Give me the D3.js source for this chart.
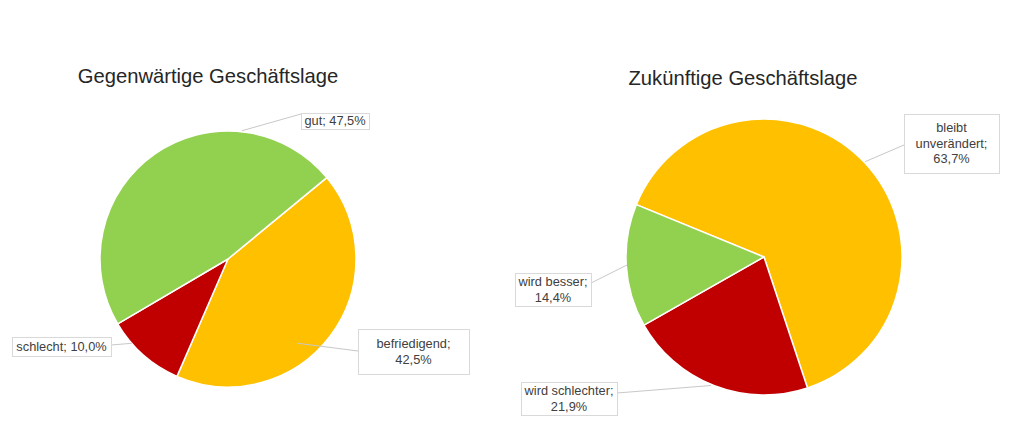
<!DOCTYPE html>
<html>
<head>
<meta charset="utf-8">
<script src="https://cdn.jsdelivr.net/npm/d3@7"></script>
<style>
  body { margin: 0; background: #fff; }
  svg { display: block; font-family: "Liberation Sans", Arial, sans-serif; }
</style>
</head>
<body>
<svg id="chart" width="1024" height="440"></svg>
<script>
// data
var leftTitle = "Gegenwärtige Geschäftslage";
var leftCategories = ["befriedigend", "schlecht", "gut"];
var leftValues = [42.5, 10.0, 47.5];
var leftColors = ["#FFC000", "#C00000", "#92D050"];

var rightTitle = "Zukünftige Geschäftslage";
var rightCategories = ["bleibt unverändert", "wird schlechter", "wird besser"];
var rightValues = [63.7, 21.9, 14.4];
var rightColors = ["#FFC000", "#C00000", "#92D050"];

var svg = d3.select("#chart");
var deg = Math.PI / 180;

function fmt(v) {
  return d3.format(".1f")(v).replace(".", ",") + "%";
}

// label layout: box [x, y, w, h], attach point on box, anchor on pie (angle deg, radius), words per row
function drawPie(cfg) {
  var g = svg.append("g")
    .attr("transform", "translate(" + cfg.cx + "," + cfg.cy + ")");

  var pie = d3.pie()
    .sort(null)
    .value(function (d) { return d.value; })
    .startAngle(cfg.start * deg)
    .endAngle(cfg.start * deg + 2 * Math.PI);

  var data = cfg.categories.map(function (c, i) {
    return { name: c, value: cfg.values[i], color: cfg.colors[i] };
  });

  var arc = d3.arc().innerRadius(0).outerRadius(cfg.r);

  g.selectAll("path")
    .data(pie(data))
    .enter().append("path")
    .attr("d", arc)
    .attr("fill", function (d) { return d.data.color; })
    .attr("stroke", "#fff")
    .attr("stroke-width", 1.5)
    .attr("stroke-linejoin", "round");

  // title
  svg.append("text")
    .attr("x", cfg.titleX)
    .attr("y", cfg.titleY)
    .attr("text-anchor", "middle")
    .attr("font-size", "20.2px")
    .attr("fill", "#262626")
    .text(cfg.title);

  // labels
  data.forEach(function (d, i) {
    var lab = cfg.labels[i];
    var p = d3.pointRadial(lab.angle * deg, lab.radius);
    svg.append("line")
      .attr("x1", cfg.cx + p[0])
      .attr("y1", cfg.cy + p[1])
      .attr("x2", lab.attach[0])
      .attr("y2", lab.attach[1])
      .attr("stroke", "#c8c8c8")
      .attr("stroke-width", 1);

    svg.append("rect")
      .attr("x", lab.box[0] + 0.5)
      .attr("y", lab.box[1] + 0.5)
      .attr("width", lab.box[2])
      .attr("height", lab.box[3])
      .attr("fill", "#fff")
      .attr("stroke", "#d9d9d9")
      .attr("stroke-width", 1);

    var words = (d.name + "; " + fmt(d.value)).split(" ");
    var rows = [], k = 0;
    lab.rows.forEach(function (n) {
      rows.push(words.slice(k, k + n).join(" "));
      k += n;
    });

    var lh = 15.5;
    var midY = lab.box[1] + lab.box[3] / 2;
    var firstY = midY - (rows.length - 1) * lh / 2;
    var t = svg.append("text")
      .attr("text-anchor", "middle")
      .attr("font-size", "12.8px")
      .attr("fill", "#404040");
    rows.forEach(function (r, j) {
      t.append("tspan")
        .attr("x", lab.box[0] + lab.box[2] / 2)
        .attr("y", firstY + j * lh)
        .attr("dy", "0.35em")
        .text(r);
    });
  });
}

drawPie({
  title: leftTitle, titleX: 208, titleY: 83,
  categories: leftCategories, values: leftValues, colors: leftColors,
  cx: 228, cy: 259, r: 128, start: 50.5,
  labels: [
    { box: [358, 329, 111, 45], attach: [358, 351], angle: 140.6, radius: 109, rows: [1, 1] },
    { box: [12, 337, 99, 19], attach: [111, 345], angle: 228.8, radius: 128, rows: [2] },
    { box: [301, 113, 68, 16], attach: [301, 114], angle: 6.2, radius: 129, rows: [2] }
  ]
});

drawPie({
  title: rightTitle, titleX: 743, titleY: 85,
  categories: rightCategories, values: rightValues, colors: rightColors,
  cx: 764, cy: 257, r: 138, start: 292.3,
  labels: [
    { box: [904, 114, 95, 59], attach: [904, 145], angle: 46.7, radius: 139, rows: [1, 1, 1] },
    { box: [521, 382, 96, 33], attach: [617, 393], angle: 202.4, radius: 139, rows: [2, 1] },
    { box: [515, 273, 76, 33], attach: [591, 283], angle: 266.7, radius: 137, rows: [2, 1] }
  ]
});
</script>
</body>
</html>
